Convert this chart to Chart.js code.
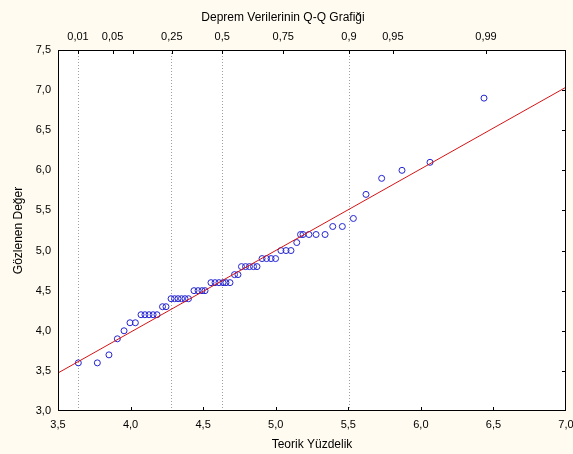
<!DOCTYPE html>
<html>
<head>
<meta charset="utf-8">
<script src="https://cdn.jsdelivr.net/npm/chart.js@4.4.1/dist/chart.umd.min.js"></script>
<style>
  html, body { margin: 0; padding: 0; background: #fffbf0; }
</style>
</head>
<body>
<canvas id="qq" width="573" height="454"></canvas>
<script>
// teorik yüzdelik (x) ve gözlenen değer (y)
const theoX = [3.640, 3.771, 3.851, 3.909, 3.955, 3.996, 4.033,
  4.072, 4.099, 4.127, 4.155, 4.182, 4.220, 4.244,
  4.279, 4.303, 4.327, 4.351, 4.375, 4.399,
  4.437, 4.465, 4.492, 4.513,
  4.554, 4.582, 4.609, 4.637, 4.657, 4.685,
  4.716, 4.740,
  4.764, 4.792, 4.819, 4.847, 4.871,
  4.906, 4.937, 4.968, 4.999,
  5.036, 5.071, 5.105, 5.145,
  5.171, 5.188, 5.229, 5.278, 5.340,
  5.393, 5.459, 5.535, 5.622, 5.730, 5.870, 6.063, 6.435];
const obsY = [3.6, 3.6, 3.7, 3.9, 4.0, 4.1, 4.1,
  4.2, 4.2, 4.2, 4.2, 4.2, 4.3, 4.3,
  4.4, 4.4, 4.4, 4.4, 4.4, 4.4,
  4.5, 4.5, 4.5, 4.5,
  4.6, 4.6, 4.6, 4.6, 4.6, 4.6,
  4.7, 4.7,
  4.8, 4.8, 4.8, 4.8, 4.8,
  4.9, 4.9, 4.9, 4.9,
  5.0, 5.0, 5.0, 5.1,
  5.2, 5.2, 5.2, 5.2, 5.2,
  5.3, 5.3, 5.4, 5.7, 5.9, 6.0, 6.1, 6.9];

// uyum doğrusu
const lineX = [3.5, 7.0];
const lineY = [3.474, 7.036];

// üst eksen: olasılık değerleri
const topPos = [3.638, 3.876, 4.015, 4.284, 4.631, 5.052, 5.505, 5.807, 6.449];
const topLabels = ['0,01', '0,05', '', '0,25', '0,5', '0,75', '0,9', '0,95', '0,99'];
const dottedIdx = [0, 3, 4, 6];

const fmt = v => v.toFixed(1).replace('.', ',');
const font = { family: "'Liberation Sans', Arial, sans-serif", size: 11 };
const titleFont = { family: "'Liberation Sans', Arial, sans-serif", size: 12, weight: 'normal' };

// arka plan, çerçeve ve içe doğru tik çizgileri
const frame = {
  id: 'frame',
  beforeDraw(chart) {
    const { ctx, chartArea: a } = chart;
    ctx.save();
    ctx.fillStyle = '#fffbf0';
    ctx.fillRect(0, 0, chart.width, chart.height);
    ctx.fillStyle = '#ffffff';
    ctx.fillRect(a.left, a.top, a.right - a.left, a.bottom - a.top);
    ctx.restore();
  },
  afterDraw(chart) {
    const { ctx, chartArea: a, scales } = chart;
    ctx.save();
    ctx.strokeStyle = '#000';
    ctx.lineWidth = 1;
    ctx.strokeRect(a.left + 0.5, a.top + 0.5, a.right - a.left - 1, a.bottom - a.top - 1);
    ctx.beginPath();
    scales.x.ticks.forEach(t => {
      const px = Math.round(scales.x.getPixelForValue(t.value)) + 0.5;
      if (px <= a.left + 1 || px >= a.right - 1) return;
      ctx.moveTo(px, a.bottom);
      ctx.lineTo(px, a.bottom - 4);
    });
    scales.xTop.ticks.forEach(t => {
      const px = Math.round(scales.xTop.getPixelForValue(t.value)) + 0.5;
      ctx.moveTo(px, a.top);
      ctx.lineTo(px, a.top + 4);
    });
    scales.y.ticks.forEach(t => {
      const py = Math.round(scales.y.getPixelForValue(t.value)) + 0.5;
      if (py <= a.top + 1 || py >= a.bottom - 1) return;
      ctx.moveTo(a.right, py);
      ctx.lineTo(a.right - 4, py);
    });
    ctx.stroke();
    ctx.restore();
  }
};

new Chart(document.getElementById('qq'), {
  data: {
    datasets: [{
      type: 'line',
      data: lineX.map((x, i) => ({ x: x, y: lineY[i] })),
      borderColor: '#d41414',
      borderWidth: 1,
      pointRadius: 0,
      fill: false
    }, {
      type: 'scatter',
      data: theoX.map((x, i) => ({ x: x, y: obsY[i] })),
      pointStyle: 'circle',
      pointRadius: 3,
      borderColor: '#2424d4',
      backgroundColor: 'rgba(0,0,0,0)',
      borderWidth: 1
    }]
  },
  options: {
    responsive: false,
    animation: false,
    layout: { padding: { left: 0, right: 7, top: 0, bottom: 0 } },
    plugins: {
      legend: { display: false },
      tooltip: { enabled: false },
      title: {
        display: true,
        text: 'Deprem Verilerinin Q-Q Grafiği',
        color: '#000',
        font: titleFont,
        padding: { top: 10, bottom: 4 }
      }
    },
    scales: {
      x: {
        type: 'linear',
        position: 'bottom',
        min: 3.5, max: 7.0,
        grid: { display: false, drawTicks: false },
        border: { display: false },
        ticks: { stepSize: 0.5, padding: 7, color: '#000', font: font, callback: v => fmt(v) },
        title: { display: true, text: 'Teorik Yüzdelik', color: '#000', font: titleFont, padding: { top: 0, bottom: 2 } },
        afterFit: s => { s.height = 43; s.paddingLeft = 0; s.paddingRight = 0; }
      },
      xTop: {
        type: 'linear',
        axis: 'x',
        position: 'top',
        min: 3.5, max: 7.0,
        afterBuildTicks: s => { s.ticks = topPos.map(v => ({ value: v })); },
        grid: {
          drawTicks: false,
          color: c => dottedIdx.includes(c.index) ? '#a0a0a0' : 'rgba(0,0,0,0)',
          lineWidth: 1
        },
        border: { display: false, dash: [1, 2] },
        ticks: { autoSkip: false, maxRotation: 0, padding: 6, color: '#000', font: font, callback: (v, i) => topLabels[i] },
        afterFit: s => { s.height = 21.6; s.paddingLeft = 0; s.paddingRight = 0; }
      },
      y: {
        type: 'linear',
        min: 3.0, max: 7.5,
        grid: { display: false, drawTicks: false },
        border: { display: false },
        ticks: { stepSize: 0.5, padding: 7, color: '#000', font: font, callback: v => fmt(v) },
        title: { display: true, text: 'Gözlenen Değer', color: '#000', font: titleFont, padding: { top: 11, bottom: 0 } },
        afterFit: s => { s.width = 58; }
      }
    }
  },
  plugins: [frame]
});
</script>
</body>
</html>
